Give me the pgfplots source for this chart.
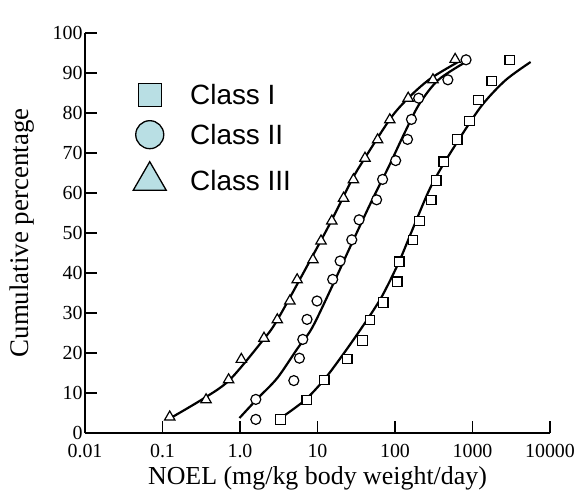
\documentclass[border=0pt]{standalone}
\usepackage{fontspec}
\setmainfont{Liberation Serif}
\newfontfamily\legfont{Liberation Sans}
\usepackage{pgfplots}
\pgfplotsset{compat=1.18}
\definecolor{legblue}{RGB}{185,223,228}

\begin{document}
\begin{tikzpicture}[x=1bp,y=1bp]
\begin{axis}[
  xmode=log,
  scale only axis,
  width=465bp, height=400bp,
  xmin=0.01, xmax=10000,
  ymin=0, ymax=100,
  axis x line=bottom,
  axis y line=left,
  axis line style={-, line width=1.8bp},
  tick align=inside,
  major tick length=12bp,
  tick style={line width=1.4bp, black},
  xtick={0.01,0.1,1,10,100,1000,10000},
  xticklabels={0.01,0.1,1.0,10,100,1000,10000},
  xtick pos=bottom,
  xminorticks=false,
  xtick style={line width=1.4bp, draw=black},
  ytick={0,10,...,100},
  ticklabel style={font=\fontsize{20}{22}\selectfont},
  xticklabel style={yshift=-8bp},
  yticklabel style={xshift=1bp},
  /pgf/number format/assume math mode=true,
  xlabel={NOEL (mg/kg body weight/day)},
  ylabel={Cumulative percentage},
  xlabel style={font=\fontsize{26}{28}\selectfont, at={(axis description cs:0.5,-0.113)}, anchor=center},
  ylabel style={font=\fontsize{27}{29}\selectfont, at={(axis description cs:-0.1355,0.5)}, anchor=center},
  clip=false,
  legend style={draw=none, fill=none, at={(axis description cs:0.097,0.883)}, anchor=north west,
    font=\legfont\fontsize{28}{30}\selectfont, row sep=13bp,
    /tikz/every odd column/.append style={column sep=22bp}},
  legend cell align=left,
  every axis plot/.append style={line width=2.2bp},
]
% legend symbols
\addlegendimage{only marks, mark=square*, mark size=11.5bp, mark options={fill=legblue, draw=black, line width=1.3bp}}
\addlegendentry{Class I}
\addlegendimage{only marks, mark=*, mark size=14bp, mark options={fill=legblue, draw=black, line width=1.3bp}}
\addlegendentry{Class II}
\addlegendimage{only marks, mark=triangle*, mark size=19bp, mark options={fill=legblue, draw=black, line width=1.3bp}}
\addlegendentry{Class III}

% fitted curves
\addplot[black, smooth, forget plot] coordinates {
  (3.51,4) (6.92,8.25) (12.5,13.6) (22.5,20.25) (40.6,27.4) (67.1,34)
  (111,42.5) (163,50.25) (269,60.25) (394,66.25) (755,75) (1365,82.25)
  (2685,88.25) (5623,92.75)
};
\addplot[black, smooth, forget plot] coordinates {
  (0.985,3.75) (1.68,8.6) (3.03,13.75) (5.46,21) (8.50,26.25) (15.3,36.5)
  (27.7,47.4) (50.0,58) (82.6,66.5) (132,74.9) (206,82.25) (361,88.25) (778,92.5)
};
\addplot[black, smooth, forget plot] coordinates {
  (0.121,3.5) (0.331,8.5) (0.733,13.25) (1.94,23) (3.03,28.25) (8.50,44)
  (15.3,53.25) (27.7,63.25) (39.4,68.25) (90.2,79) (163,84.5) (294,88.75) (652,92.75)
};

% Class I
\addplot[only marks, mark=square*, mark size=4.8bp, mark options={fill=white, draw=black, line width=1.2bp}, forget plot] coordinates {
  (3.34,3.4) (7.27,8.25) (12.2,13.25) (24.2,18.5) (37.9,23.1) (47.5,28.25)
  (70.6,32.6) (107,37.8) (113,42.8) (171,48.25) (208,53) (294,58.25)
  (340,63.1) (427,67.8) (633,73.4) (910,78) (1200,83.25) (1778,88) (3027,93.25)
};
% Class II
\addplot[only marks, mark=*, mark size=5bp, mark options={fill=white, draw=black, line width=1.2bp}, forget plot] coordinates {
  (1.60,3.4) (1.60,8.4) (4.95,13.1) (5.84,18.7) (6.46,23.4) (7.33,28.4)
  (9.86,33) (15.7,38.4) (19.6,43) (27.7,48.3) (34.4,53.3) (57.9,58.3)
  (69.2,63.4) (102,68.1) (145,73.4) (163,78.4) (202,83.7) (481,88.3) (826,93.3)
};
% Class III
\addplot[only marks, mark=triangle*, mark size=6bp, mark options={fill=white, draw=black, line width=1.2bp}, forget plot] coordinates {
  (0.124,4) (0.365,8.3) (0.713,13.3) (1.04,18.4) (2.04,23.7) (3.03,28.3)
  (4.40,33) (5.46,38.3) (8.75,43.3) (11.1,48) (15.3,53) (21.7,58.7)
  (29.1,63.3) (41.0,68.7) (59.7,73.3) (85.7,78.3) (148,83.7) (309,88.3) (597,93.4)
};
\end{axis}
\pgfresetboundingbox
\path[use as bounding box] (-85bp,-62bp) rectangle (497bp,433bp);
\end{tikzpicture}
\end{document}
